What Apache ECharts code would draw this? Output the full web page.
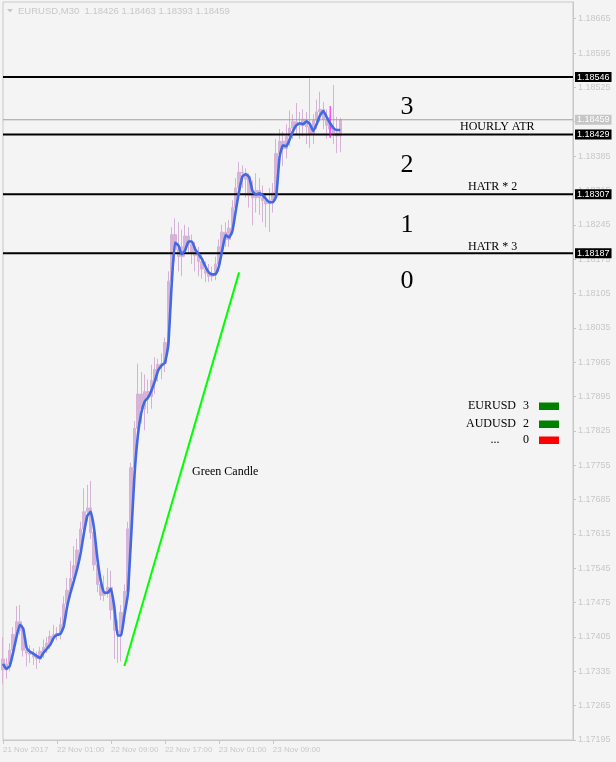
<!DOCTYPE html>
<html>
<head>
<meta charset="utf-8">
<script src="https://cdn.jsdelivr.net/npm/echarts@6/dist/echarts.min.js"></script>
<style>
html,body{margin:0;padding:0;background:#f4f4f4;}
#chart{width:616px;height:762px;}
</style>
</head>
<body>
<div id="chart"></div>
<script>
// ---------- DATA ----------
const symbolTitle = 'EURUSD,M30  1.18426 1.18463 1.18393 1.18459';
const priceBase = 1.17195;          // lowest axis tick
const priceTop = 1.18699;           // top of the visible price range
const priceStep = 0.0007;           // axis tick step
const slotCount = 170;              // bar slots across the chart (incl. empty shift area)
const xTickLabels = ['21 Nov 2017', '22 Nov 01:00', '22 Nov 09:00', '22 Nov 17:00', '23 Nov 01:00', '23 Nov 09:00'];
const xTickEvery = 16;

const opens = [1.17360,1.17338,1.17350,1.17378,1.17410,1.17436,1.17418,1.17378,1.17372,1.17370,
1.17364,1.17360,1.17376,1.17384,1.17392,1.17406,1.17410,1.17412,1.17430,1.17472,
1.17500,1.17524,1.17550,1.17582,1.17625,1.17660,1.17668,1.17618,1.17552,1.17512,
1.17490,1.17497,1.17506,1.17460,1.17418,1.17410,1.17455,1.17498,1.17625,1.17750,
1.17830,1.17900,1.17870,1.17905,1.17895,1.17928,1.17950,1.17960,1.17962,1.18005,
1.18130,1.18225,1.18195,1.18180,1.18200,1.18222,1.18205,1.18190,1.18182,1.18170,
1.18155,1.18146,1.18140,1.18146,1.18165,1.18200,1.18230,1.18215,1.18238,1.18280,
1.18320,1.18352,1.18350,1.18338,1.18305,1.18300,1.18315,1.18300,1.18294,1.18288,
1.18295,1.18310,1.18390,1.18415,1.18400,1.18425,1.18442,1.18455,1.18450,1.18448,
1.18460,1.18445,1.18430,1.18458,1.18475,1.18480,1.18460,1.18448,1.18440,1.18432,
1.18426];

const closes = [1.17338,1.17350,1.17378,1.17410,1.17436,1.17418,1.17378,1.17372,1.17370,1.17364,
1.17360,1.17376,1.17384,1.17392,1.17406,1.17410,1.17412,1.17430,1.17472,1.17500,
1.17524,1.17550,1.17582,1.17625,1.17660,1.17668,1.17618,1.17552,1.17512,1.17490,
1.17497,1.17506,1.17460,1.17418,1.17410,1.17455,1.17498,1.17625,1.17750,1.17830,
1.17900,1.17870,1.17905,1.17895,1.17928,1.17950,1.17960,1.17962,1.18005,1.18130,
1.18225,1.18195,1.18180,1.18200,1.18222,1.18205,1.18190,1.18182,1.18170,1.18155,
1.18146,1.18140,1.18146,1.18165,1.18200,1.18230,1.18215,1.18238,1.18280,1.18320,
1.18352,1.18350,1.18338,1.18305,1.18300,1.18315,1.18300,1.18294,1.18288,1.18295,
1.18310,1.18390,1.18415,1.18400,1.18425,1.18442,1.18455,1.18450,1.18448,1.18460,
1.18445,1.18430,1.18458,1.18475,1.18480,1.18460,1.18448,1.18440,1.18432,1.18426,
1.18459];

const highs = [1.17405,1.17362,1.17392,1.17425,1.17468,1.17470,1.17430,1.17395,1.17388,1.17382,
1.17375,1.17385,1.17400,1.17405,1.17418,1.17430,1.17425,1.17445,1.17488,1.17525,
1.17560,1.17590,1.17605,1.17640,1.17708,1.17715,1.17723,1.17630,1.17565,1.17530,
1.17530,1.17545,1.17540,1.17470,1.17440,1.17470,1.17512,1.17640,1.17760,1.17845,
1.17962,1.17945,1.17940,1.17930,1.17960,1.17975,1.17972,1.17983,1.18015,1.18150,
1.18240,1.18258,1.18250,1.18235,1.18245,1.18240,1.18225,1.18210,1.18200,1.18185,
1.18170,1.18165,1.18160,1.18180,1.18215,1.18245,1.18250,1.18255,1.18295,1.18340,
1.18373,1.18366,1.18360,1.18350,1.18335,1.18350,1.18340,1.18325,1.18310,1.18320,
1.18330,1.18420,1.18440,1.18435,1.18450,1.18478,1.18470,1.18493,1.18475,1.18480,
1.18475,1.18546,1.18470,1.18500,1.18516,1.18495,1.18480,1.18465,1.18530,1.18465,
1.18463];

const lows = [1.17310,1.17320,1.17335,1.17370,1.17402,1.17410,1.17365,1.17345,1.17352,1.17348,
1.17340,1.17352,1.17362,1.17372,1.17380,1.17395,1.17398,1.17400,1.17420,1.17460,
1.17485,1.17510,1.17535,1.17570,1.17600,1.17640,1.17605,1.17540,1.17496,1.17480,
1.17478,1.17485,1.17440,1.17360,1.17352,1.17355,1.17440,1.17490,1.17610,1.17720,
1.17815,1.17840,1.17826,1.17860,1.17870,1.17900,1.17925,1.17930,1.17945,1.17995,
1.18110,1.18170,1.18150,1.18140,1.18180,1.18185,1.18165,1.18150,1.18140,1.18135,
1.18128,1.18128,1.18130,1.18132,1.18150,1.18185,1.18200,1.18200,1.18225,1.18265,
1.18305,1.18320,1.18300,1.18280,1.18244,1.18270,1.18265,1.18250,1.18240,1.18230,
1.18270,1.18295,1.18370,1.18365,1.18380,1.18405,1.18420,1.18430,1.18420,1.18425,
1.18410,1.18401,1.18410,1.18440,1.18455,1.18440,1.18420,1.18425,1.18410,1.18391,
1.18393];

const movingAverage = [1.17350,1.17340,1.17346,1.17373,1.17405,1.17430,1.17422,1.17383,1.17375,1.17371,
1.17366,1.17362,1.17373,1.17381,1.17389,1.17403,1.17409,1.17411,1.17426,1.17466,
1.17495,1.17519,1.17544,1.17575,1.17617,1.17652,1.17660,1.17626,1.17564,1.17519,
1.17495,1.17495,1.17503,1.17466,1.17408,1.17408,1.17450,1.17491,1.17611,1.17736,
1.17817,1.17862,1.17885,1.17893,1.17907,1.17926,1.17948,1.17958,1.17964,1.17999,
1.18122,1.18209,1.18203,1.18185,1.18193,1.18211,1.18211,1.18195,1.18185,1.18175,
1.18160,1.18148,1.18144,1.18144,1.18160,1.18193,1.18224,1.18219,1.18232,1.18273,
1.18313,1.18344,1.18348,1.18342,1.18313,1.18307,1.18309,1.18305,1.18297,1.18291,
1.18291,1.18303,1.18383,1.18407,1.18405,1.18419,1.18436,1.18448,1.18452,1.18450,
1.18456,1.18450,1.18436,1.18450,1.18468,1.18477,1.18464,1.18452,1.18442,1.18438,
1.18438];

const levelLines = [1.18546, 1.18429, 1.18307, 1.18187];
const bidPrice = 1.18459;
const trendLine = [[36, 1.17346], [70, 1.18148]];      // [bar index, price]
const markerBar = [97, 1.18422, 1.18487];             // [bar index, low, high]

const zoneNumbers = ['3', '2', '1', '0'];
const levelNames = ['HOURLY ATR', 'HATR * 2', 'HATR * 3'];
const noteText = 'Green Candle';
const tableSymbols = ['EURUSD', 'AUDUSD', '...'];
const tableScores = ['3', '2', '0'];
const tableColors = ['#008000', '#008000', '#ff0000'];

// ---------- BUILD ----------
const off = v => +(v - priceBase).toFixed(6);
const cats = [];
for (let i = 0; i < slotCount; i++) cats.push('b' + i);
const tickLabelAt = i => (i % xTickEvery === 0 && i / xTickEvery < xTickLabels.length) ? xTickLabels[i / xTickEvery] : null;
const candleData = opens.map((o, i) => [off(o), off(closes[i]), off(lows[i]), off(highs[i])]);
const maData = movingAverage.map(off);

const GREY = '#c8c8c8';
const SANS = '"Liberation Sans", Arial, sans-serif';
const SERIF = '"Liberation Serif", "Times New Roman", serif';

function hLine(v, color, width, bg, z) {
  return {
    type: 'line', z: z, silent: true, showSymbol: false, clip: false,
    data: [[0, off(v)], [slotCount - 1, off(v)]],
    lineStyle: { color: color, width: width },
    endLabel: {
      show: true, formatter: v.toFixed(5), distance: 2,
      backgroundColor: bg, color: '#fff', fontSize: 9, fontFamily: SANS,
      padding: [1, 2, 0, 2]
    }
  };
}

const graphics = [];
graphics.push({ type: 'polygon', shape: { points: [[7, 9], [13, 9], [10, 12.5]] }, style: { fill: GREY }, silent: true });
graphics.push({ type: 'text', x: 18, y: 11, silent: true,
  style: { text: symbolTitle, fill: GREY, font: '9.5px ' + SANS, textAlign: 'left', textVerticalAlign: 'middle', align: 'left', verticalAlign: 'middle' } });

const zoneY = [107, 165, 225, 281];
zoneNumbers.forEach((t, i) => graphics.push({ type: 'text', x: 407, y: zoneY[i], silent: true,
  style: { text: t, fill: '#000', font: '26px ' + SERIF, textAlign: 'center', textVerticalAlign: 'middle', align: 'center', verticalAlign: 'middle' } }));

const nameX = [460, 468, 468], nameY = [127, 187, 247];
levelNames.forEach((t, i) => graphics.push({ type: 'text', x: nameX[i], y: nameY[i], silent: true,
  style: { text: t, fill: '#000', font: '12px ' + SERIF, textAlign: 'left', textVerticalAlign: 'middle', align: 'left', verticalAlign: 'middle' } }));

graphics.push({ type: 'text', x: 192, y: 472, silent: true,
  style: { text: noteText, fill: '#000', font: '12px ' + SERIF, textAlign: 'left', textVerticalAlign: 'middle', align: 'left', verticalAlign: 'middle' } });

const rowY = [406, 424, 440];
tableSymbols.forEach((t, i) => {
  graphics.push({ type: 'text', x: t === '...' ? 495 : 516, y: rowY[i], silent: true,
    style: { text: t, fill: '#000', font: '12px ' + SERIF, textAlign: t === '...' ? 'center' : 'right', textVerticalAlign: 'middle', align: t === '...' ? 'center' : 'right', verticalAlign: 'middle' } });
  graphics.push({ type: 'text', x: 526, y: rowY[i], silent: true,
    style: { text: tableScores[i], fill: '#000', font: '12px ' + SERIF, textAlign: 'center', textVerticalAlign: 'middle', align: 'center', verticalAlign: 'middle' } });
  graphics.push({ type: 'rect', shape: { x: 539, y: rowY[i] - 3.5, width: 20, height: 7.5 }, style: { fill: tableColors[i] }, silent: true });
});

const series = [
  {
    type: 'candlestick', data: candleData, barWidth: 3,
    itemStyle: { color: '#d8b4d8', color0: '#d8b4d8', borderColor: '#d6b2d6', borderColor0: '#d6b2d6', borderWidth: 1 },
    z: 2
  },
  hLine(bidPrice, '#a0a0a0', 1, '#c6c6c6', 3)
];
levelLines.forEach(v => series.push(hLine(v, '#000', 2, '#000', 3)));
series.push(
  {
    type: 'line', data: [[markerBar[0], off(markerBar[1])], [markerBar[0], off(markerBar[2])]],
    showSymbol: false, silent: true, lineStyle: { color: '#ff00ff', width: 1 }, z: 3
  },
  {
    type: 'line', data: maData, smooth: 0.15, showSymbol: false, silent: true,
    lineStyle: { color: '#4169e1', width: 2.6 }, z: 4
  },
  {
    type: 'line', data: trendLine.map(p => [p[0], off(p[1])]), showSymbol: false, silent: true,
    lineStyle: { color: '#00ff00', width: 2 }, z: 4
  }
);

const chart = echarts.init(document.getElementById('chart'), null, { renderer: 'canvas' });
chart.setOption({
  backgroundColor: '#f4f4f4',
  animation: false,
  grid: { left: 3, right: 43, top: 2, bottom: 22, show: true, borderColor: GREY, borderWidth: 1, backgroundColor: 'transparent' },
  xAxis: {
    type: 'category', data: cats, boundaryGap: false,
    axisLine: { show: true, lineStyle: { color: GREY, width: 1 } },
    axisTick: { show: true, length: 4, alignWithLabel: true, lineStyle: { color: GREY }, interval: i => tickLabelAt(i) !== null },
    axisLabel: { show: true, interval: i => tickLabelAt(i) !== null, hideOverlap: false,
      formatter: (v, i) => tickLabelAt(i) || '',
      align: 'left', color: GREY, fontSize: 8, fontFamily: SANS, margin: 6 },
    splitLine: { show: false }
  },
  yAxis: {
    type: 'value', position: 'right', min: 0, max: off(priceTop), interval: priceStep, scale: false,
    axisLine: { show: true, lineStyle: { color: GREY, width: 1 } },
    axisTick: { show: true, length: 3, lineStyle: { color: GREY } },
    axisLabel: { show: true, color: GREY, fontSize: 9, fontFamily: SANS, margin: 5, showMaxLabel: false,
      formatter: v => (v + priceBase).toFixed(5) },
    splitLine: { show: false }
  },
  series: series,
  graphic: graphics
});
</script>
</body>
</html>
